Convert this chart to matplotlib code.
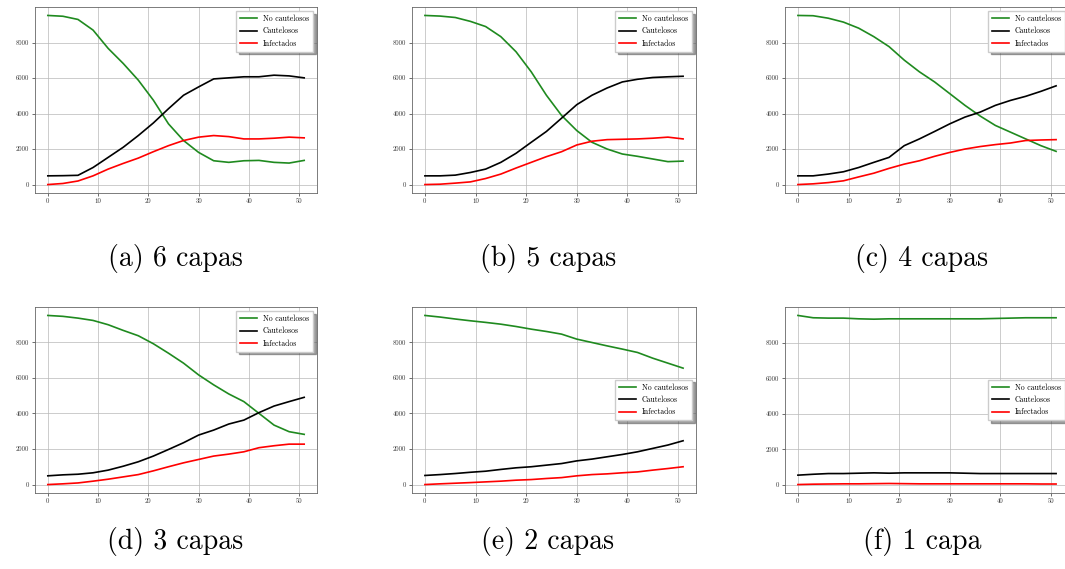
import numpy as np
import matplotlib
matplotlib.use("Agg")
import matplotlib.pyplot as plt

plt.rcParams["font.family"] = ["cmr10", "DejaVu Serif"]
plt.rcParams["axes.unicode_minus"] = False
plt.rcParams["axes.formatter.use_mathtext"] = False

dias = [0, 3, 6, 9, 12, 15, 18, 21, 24, 27, 30, 33, 36, 39, 42, 45, 48, 51]
etiquetas = ["No cautelosos", "Cautelosos", "Infectados"]
titulos = ["(a) 6 capas", "(b) 5 capas", "(c) 4 capas",
           "(d) 3 capas", "(e) 2 capas", "(f) 1 capa"]

# valores leidos de cada panel (no cautelosos, cautelosos, infectados)
no_caut_6 = [9525, 9480, 9300, 8700, 7670, 6820, 5880, 4750, 3420, 2480, 1810, 1340, 1250, 1340, 1360, 1250, 1210, 1360]
caut_6 = [490, 500, 520, 960, 1530, 2100, 2760, 3470, 4270, 5030, 5500, 5950, 6010, 6070, 6070, 6160, 6120, 6010]
inf_6 = [0, 60, 200, 490, 870, 1190, 1490, 1850, 2190, 2480, 2670, 2760, 2700, 2570, 2570, 2610, 2670, 2630]

no_caut_5 = [9525, 9490, 9410, 9190, 8900, 8330, 7480, 6350, 5030, 3890, 3040, 2380, 2000, 1720, 1590, 1440, 1290, 1320]
caut_5 = [490, 490, 530, 680, 870, 1250, 1760, 2380, 2990, 3740, 4500, 5030, 5440, 5780, 5930, 6030, 6070, 6100]
inf_5 = [0, 20, 80, 150, 340, 590, 930, 1250, 1570, 1850, 2230, 2440, 2530, 2550, 2570, 2610, 2670, 2570]

no_caut_4 = [9525, 9510, 9370, 9150, 8810, 8330, 7770, 7010, 6350, 5780, 5120, 4460, 3860, 3330, 2950, 2570, 2190, 1870]
caut_4 = [490, 490, 590, 720, 960, 1250, 1530, 2190, 2570, 2990, 3420, 3800, 4080, 4460, 4740, 4970, 5250, 5560]
inf_4 = [0, 40, 110, 210, 430, 640, 910, 1150, 1340, 1590, 1810, 2000, 2140, 2250, 2340, 2480, 2510, 2530]

no_caut_3 = [9500, 9450, 9350, 9220, 8980, 8660, 8360, 7910, 7380, 6820, 6160, 5600, 5090, 4660, 4000, 3340, 2970, 2820]
caut_3 = [490, 545, 580, 660, 810, 1030, 1280, 1600, 1970, 2350, 2780, 3060, 3400, 3620, 4040, 4410, 4660, 4900]
inf_3 = [0, 40, 90, 190, 300, 430, 560, 770, 1000, 1220, 1410, 1600, 1710, 1840, 2070, 2180, 2270, 2270]

no_caut_2 = [9500, 9410, 9300, 9200, 9110, 9010, 8880, 8730, 8600, 8450, 8170, 7980, 7790, 7610, 7420, 7100, 6820, 6540]
caut_2 = [510, 560, 620, 690, 750, 850, 940, 1000, 1090, 1180, 1330, 1430, 1560, 1690, 1840, 2030, 2220, 2460]
inf_2 = [0, 40, 75, 110, 150, 190, 245, 280, 340, 390, 490, 560, 600, 660, 710, 810, 900, 1000]

no_caut_1 = [9540, 9410, 9390, 9390, 9350, 9330, 9350, 9350, 9350, 9350, 9350, 9350, 9350, 9370, 9390, 9410, 9410, 9410]
caut_1 = [530, 580, 620, 620, 640, 660, 640, 660, 660, 660, 660, 640, 620, 620, 620, 620, 620, 620]
inf_1 = [0, 20, 30, 40, 40, 50, 60, 50, 40, 40, 40, 40, 40, 40, 40, 40, 30, 30]

paneles = [(no_caut_6, caut_6, inf_6), (no_caut_5, caut_5, inf_5), (no_caut_4, caut_4, inf_4),
           (no_caut_3, caut_3, inf_3), (no_caut_2, caut_2, inf_2), (no_caut_1, caut_1, inf_1)]
leyenda_pos = ["upper right", "upper right", "upper right", "upper right", "center right", "center right"]

W, H = 1065, 569
fig = plt.figure(figsize=(W/100, H/100), dpi=100)

lefts = [35, 412, 785]
anchos = [282, 284, 284]
tops = [7, 307]
alto = 186
centros = [175, 548, 922]
cap_y = [259, 541]

for k in range(6):
    fila, col = k // 3, k % 3
    ax = fig.add_axes([lefts[col]/W, (H - tops[fila] - alto)/H, anchos[col]/W, alto/H])
    nc, c, inf = paneles[k]
    ax.plot(dias, nc, color="#1f8a1f", lw=1.2, label=etiquetas[0])
    ax.plot(dias, c, color="black", lw=1.2, label=etiquetas[1])
    ax.plot(dias, inf, color="red", lw=1.2, label=etiquetas[2])
    ax.set_xlim(-2.55, 53.55)
    ax.set_xticks([0, 10, 20, 30, 40, 50])
    ax.set_yticks([0, 2000, 4000, 6000, 8000])
    ax.tick_params(labelsize=4.8, length=2, width=0.5, pad=2, colors="#333333")
    ax.grid(True, color="#b8b8b8", lw=0.5)
    for s in ax.spines.values():
        s.set_linewidth(0.6)
        s.set_color("#666666")
    ax.legend(loc=leyenda_pos[k], fontsize=5.6, shadow=True, handlelength=2.2,
              borderpad=0.5, labelspacing=0.5, fancybox=False, edgecolor="#cccccc")
    fig.text(centros[col]/W, 1 - cap_y[fila]/H, titulos[k], fontsize=20,
             ha="center", va="center")

fig.savefig("out.png", dpi=100)
